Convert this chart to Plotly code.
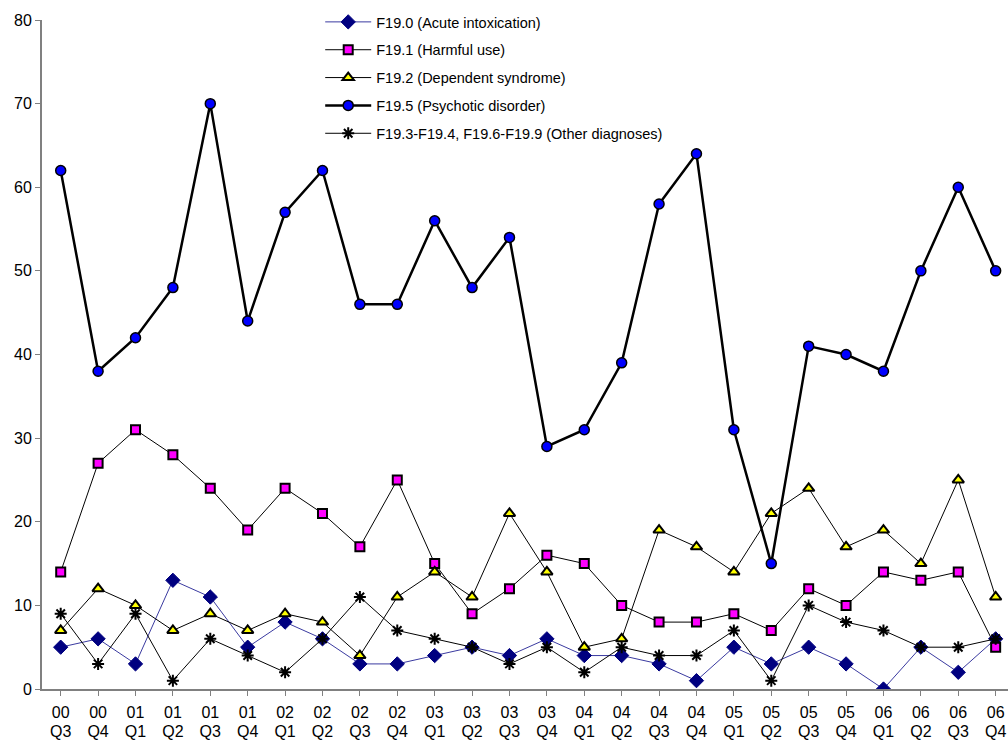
import plotly.graph_objects as go

categories = ["00 Q3", "00 Q4", "01 Q1", "01 Q2", "01 Q3", "01 Q4", "02 Q1", "02 Q2", "02 Q3", "02 Q4",
              "03 Q1", "03 Q2", "03 Q3", "03 Q4", "04 Q1", "04 Q2", "04 Q3", "04 Q4", "05 Q1", "05 Q2",
              "05 Q3", "05 Q4", "06 Q1", "06 Q2", "06 Q3", "06 Q4"]
year_labels = [c.split(" ")[0] for c in categories]
quarter_labels = [c.split(" ")[1] for c in categories]

acute = [5, 6, 3, 13, 11, 5, 8, 6, 3, 3, 4, 5, 4, 6, 4, 4, 3, 1, 5, 3, 5, 3, 0, 5, 2, 6]
harmful = [14, 27, 31, 28, 24, 19, 24, 21, 17, 25, 15, 9, 12, 16, 15, 10, 8, 8, 9, 7, 12, 10, 14, 13, 14, 5]
dependent = [7, 12, 10, 7, 9, 7, 9, 8, 4, 11, 14, 11, 21, 14, 5, 6, 19, 17, 14, 21, 24, 17, 19, 15, 25, 11]
psychotic = [62, 38, 42, 48, 70, 44, 57, 62, 46, 46, 56, 48, 54, 29, 31, 39, 58, 64, 31, 15, 41, 40, 38, 50, 60, 50]
other = [9, 3, 9, 1, 6, 4, 2, 6, 11, 7, 6, 5, 3, 5, 2, 5, 4, 4, 7, 1, 10, 8, 7, 5, 5, 6]

names = ["F19.0 (Acute intoxication)", "F19.1 (Harmful use)", "F19.2 (Dependent syndrome)",
         "F19.5 (Psychotic disorder)", "F19.3-F19.4, F19.6-F19.9 (Other diagnoses)"]

FONT = "Liberation Sans, Arial, sans-serif"
x = list(range(len(categories)))

fig = go.Figure()
fig.add_trace(go.Scatter(x=x, y=acute, name=names[0], mode="lines+markers", legendgroup="a",
                         line=dict(color="#3a3aa0", width=1),
                         marker=dict(symbol="diamond", size=11, color="#000080",
                                     line=dict(color="#000080", width=1))))
fig.add_trace(go.Scatter(x=x, y=harmful, name=names[1], mode="lines+markers", legendgroup="b",
                         line=dict(color="black", width=1),
                         marker=dict(symbol="square", size=9, color="#FF00FF",
                                     line=dict(color="black", width=2))))
fig.add_trace(go.Scatter(x=x, y=dependent, name=names[2], mode="lines+markers", legendgroup="c",
                         line=dict(color="black", width=1),
                         marker=dict(symbol="triangle-up", size=10, color="#FFFF00",
                                     line=dict(color="black", width=2))))
fig.add_trace(go.Scatter(x=x, y=psychotic, name=names[3], mode="lines+markers", legendgroup="d",
                         line=dict(color="black", width=2.5),
                         marker=dict(symbol="circle", size=10, color="#0000FF",
                                     line=dict(color="black", width=1.5))))
fig.add_trace(go.Scatter(x=x, y=other, name=names[4], mode="lines+markers", legendgroup="e",
                         line=dict(color="black", width=1),
                         marker=dict(symbol="asterisk-open", size=10, color="black",
                                     line=dict(color="black", width=2))))

fig.update_layout(
    width=1008, height=742,
    margin=dict(l=42, r=0, t=20, b=53, autoexpand=False),
    paper_bgcolor="white", plot_bgcolor="white",
    font=dict(family=FONT, size=16, color="black"),
    showlegend=True,
    legend=dict(x=0.288, y=1.021, xanchor="left", yanchor="top", bgcolor="rgba(0,0,0,0)",
                font=dict(family=FONT, size=14.5, color="black"),
                tracegroupgap=6, itemwidth=46),
    xaxis=dict(tickmode="array", tickvals=x, ticktext=year_labels,
               range=[-0.5, 25.33], showgrid=False, zeroline=False, automargin=False,
               showline=True, linecolor="#808080", linewidth=2,
               ticks="outside", ticklen=5, tickcolor="#808080", tickson="boundaries",
               ticklabelstandoff=3,
               tickfont=dict(family=FONT, size=16, color="black")),
    xaxis2=dict(tickmode="array", tickvals=x, ticktext=quarter_labels, matches="x",
                overlaying="x", side="bottom", anchor="y",
                range=[-0.5, 25.33], showgrid=False, zeroline=False, automargin=False,
                showline=False, ticks="", ticklabelstandoff=31,
                tickfont=dict(family=FONT, size=16, color="black")),
    yaxis=dict(range=[0, 80], dtick=10, showgrid=False, zeroline=False, automargin=False,
               showline=True, linecolor="#808080", linewidth=2,
               ticks="outside", ticklen=5, tickcolor="#808080",
               tickfont=dict(family=FONT, size=16, color="black")),
)

# invisible carrier trace so that the quarter-label axis is drawn
fig.add_trace(go.Scatter(x=x, y=[None] * len(x), xaxis="x2", yaxis="y",
                         showlegend=False, hoverinfo="skip", mode="lines"))

fig.write_html("out.html", config={"displayModeBar": False},
               post_script="document.body.style.margin='0';document.body.style.overflow='hidden';")
